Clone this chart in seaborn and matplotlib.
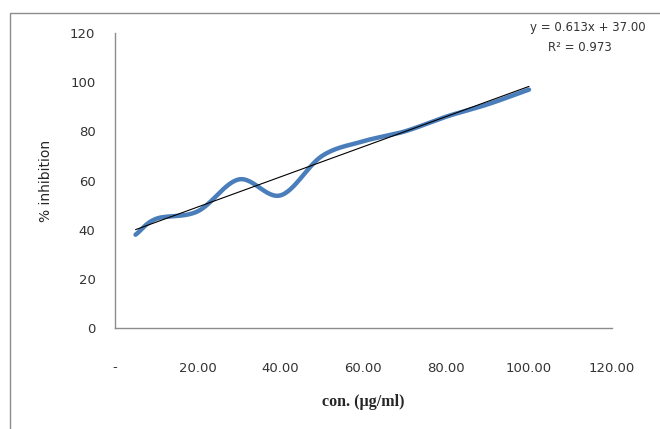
import numpy as np
import pandas as pd
import matplotlib
matplotlib.use("Agg")
import matplotlib.pyplot as plt
import seaborn as sns
from matplotlib.patches import Rectangle

# Datos
concentracion = [5, 10, 20, 30, 40, 50, 60, 70, 80, 90, 100]
inhibicion = [38.0, 44.5, 47.5, 60.5, 54.0, 70.0, 76.0, 80.0, 86.0, 91.0, 97.0]
pendiente = 0.613
intercepto = 37.00
r2 = 0.973
x_ticks = [0, 20, 40, 60, 80, 100, 120]
x_labels = ['-', '20.00', '40.00', '60.00', '80.00', '100.00', '120.00']
y_ticks = [0, 20, 40, 60, 80, 100, 120]


# Linea suavizada tipo Excel (Catmull-Rom) solo para dibujar
def suavizar(x, y, n=30):
    x = np.asarray(x, float)
    y = np.asarray(y, float)
    px = np.concatenate([[2 * x[0] - x[1]], x, [2 * x[-1] - x[-2]]])
    py = np.concatenate([[2 * y[0] - y[1]], y, [2 * y[-1] - y[-2]]])
    xs, ys = [], []
    t = np.linspace(0, 1, n)
    for i in range(1, len(px) - 2):
        for p, out in ((px, xs), (py, ys)):
            p0, p1, p2, p3 = p[i - 1], p[i], p[i + 1], p[i + 2]
            out.extend(0.5 * ((2 * p1) + (-p0 + p2) * t
                              + (2 * p0 - 5 * p1 + 4 * p2 - p3) * t ** 2
                              + (-p0 + 3 * p1 - 3 * p2 + p3) * t ** 3))
    return np.array(xs), np.array(ys)


sx, sy = suavizar(concentracion, inhibicion)
df_curva = pd.DataFrame({'x': sx, 'y': sy})
x_tend = np.array([concentracion[0], concentracion[-1]])
df_tend = pd.DataFrame({'x': x_tend, 'y': pendiente * x_tend + intercepto})

sns.set_style("white")
plt.rcParams['font.family'] = ['DejaVu Sans']

fig = plt.figure(figsize=(6.6, 4.29), dpi=100)
ax = fig.add_axes([0.174, 0.235, 0.753, 0.688])

sns.lineplot(data=df_curva, x='x', y='y', ax=ax, color='#4A7EBB', linewidth=3.2,
             sort=False, estimator=None)
sns.lineplot(data=df_tend, x='x', y='y', ax=ax, color='black', linewidth=0.8,
             estimator=None)

ax.set_xlim(0, 120)
ax.set_ylim(0, 120)
ax.set_xticks(x_ticks)
ax.set_xticklabels(x_labels)
ax.set_yticks(y_ticks)
ax.tick_params(axis='x', length=0, pad=24, labelsize=9.5, labelcolor='#333333')
ax.tick_params(axis='y', length=0, pad=14, labelsize=9.5, labelcolor='#333333')

for lado in ['top', 'right']:
    ax.spines[lado].set_visible(False)
for lado in ['left', 'bottom']:
    ax.spines[lado].set_color('#8C8C8C')
    ax.spines[lado].set_linewidth(1.0)

ax.set_ylabel('% inhibition', fontsize=10, labelpad=12)
ax.set_xlabel('con. (µg/ml)', fontsize=11.5, fontweight='bold',
              family='Liberation Serif', labelpad=14)

# Ecuacion de la linea de tendencia
fig.text(0.891, 0.937, f'y = {pendiente:.3f}x + {intercepto:.2f}', ha='center',
         va='center', fontsize=8.5, color='#333333')
fig.text(0.878, 0.890, f'R² = {r2:.3f}', ha='center', va='center',
         fontsize=8.5, color='#333333')

# Marco del area del grafico
fig.patches.append(Rectangle((10 / 660, -0.1), 1.2, (429 - 13) / 429 + 0.1,
                             transform=fig.transFigure, fill=False,
                             edgecolor='#8C8C8C', linewidth=1.0))

fig.savefig('out.png', dpi=100)
